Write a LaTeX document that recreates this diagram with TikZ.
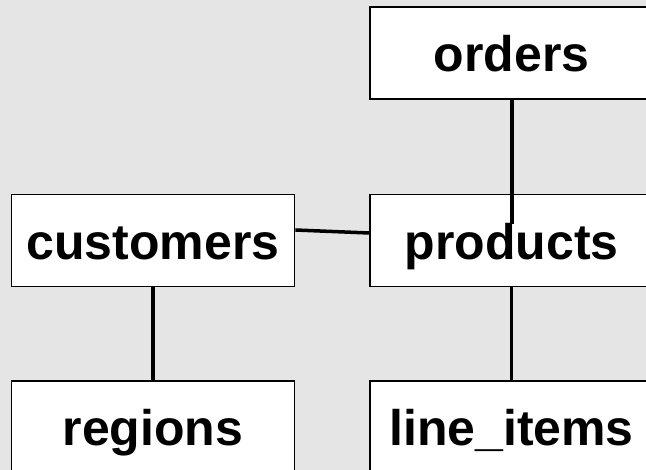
\documentclass[tikz,border=0pt]{standalone}
\usepackage{fontspec}
\setmainfont{Liberation Sans}
\usetikzlibrary{calc}
\definecolor{canvas}{RGB}{229,229,229}
\tikzset{
  table/.style={draw=black, fill=white, line width=1.8pt, inner sep=0pt,
    minimum width=283pt, text height=65pt, text depth=27pt,
    font=\fontsize{50}{50}\selectfont\bfseries},
  link/.style={draw=black, line width=3.5pt}
}
\begin{document}
\begin{tikzpicture}[x=1pt,y=-1pt]
  \useasboundingbox (0,0) rectangle (646,470);
  \fill[canvas] (0,0) rectangle (646,470);
  % tables
  \node[table] (orders)    at (511.5,53)    {orders};
  \node[table] (customers) at (153,240.5)   {customers};
  \node[table] (products)  at (511.5,240.5) {products};
  \node[table] (regions)   at (153,427)     {regions};
  \node[table] (lineitems) at (511.5,427)   {line\_items};
  % connector end points
  \coordinate (ordend) at ($(products.north)+(0.5,30)$);
  \coordinate (custout) at ($(customers.east)+(0,-10.5)$);
  \coordinate (prodin) at ($(products.west)+(0,-7.5)$);
  % relations
  \draw[link] (orders.south -| ordend) -- (ordend);
  \draw[link] (custout) -- (prodin);
  \draw[link] (customers.south) -- (regions.north);
  \draw[link] (products.south) -- (lineitems.north);
\end{tikzpicture}
\end{document}
